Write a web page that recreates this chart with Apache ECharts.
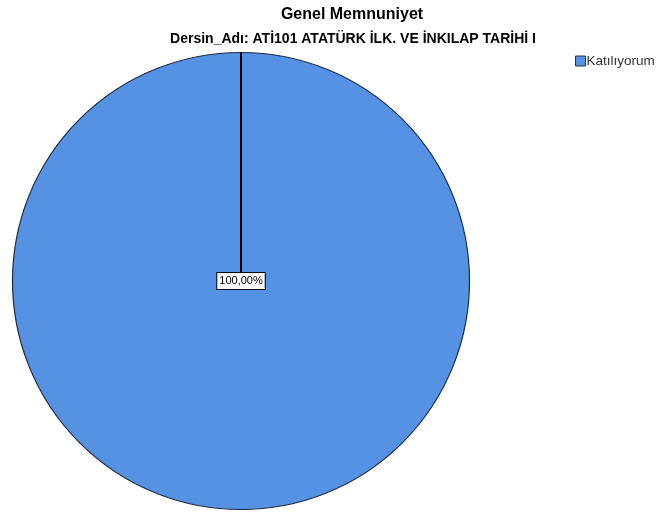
<!DOCTYPE html>
<html>
<head>
<meta charset="utf-8">
<script src="https://cdn.jsdelivr.net/npm/echarts@6/dist/echarts.min.js"></script>
<style>
html,body{margin:0;padding:0;background:#fff;}
#c{width:657px;height:513px;}
</style>
</head>
<body>
<div id="c"></div>
<script>
var titleText = 'Genel Memnuniyet';
var subtitleText = 'Dersin_Adı: ATİ101 ATATÜRK İLK. VE İNKILAP TARİHİ I';
var categories = ['Katılıyorum'];
var values = [100];
var sliceColors = ['#5592e3'];

var FONT = '"Liberation Sans", Arial, sans-serif';
var center = [241, 281];
var radius = 228.5;

var chart = echarts.init(document.getElementById('c'), null, {renderer: 'canvas'});
var pieData = categories.map(function (c, i) {
  return {name: c, value: values[i], itemStyle: {color: sliceColors[i]}};
});
var labelData = categories.map(function (c, i) {
  return {name: c, value: values[i]};
});

chart.setOption({
  animation: false,
  backgroundColor: '#fff',
  title: [
    {text: titleText, left: 347, top: 2, textAlign: 'center',
     textStyle: {fontFamily: FONT, fontSize: 16, fontWeight: 'bold', color: '#000'}},
    {text: subtitleText, left: 348, top: 27, textAlign: 'center',
     textStyle: {fontFamily: FONT, fontSize: 14, fontWeight: 'bold', color: '#000'}}
  ],
  legend: {
    orient: 'vertical', left: 575, top: 54, padding: 0, icon: 'rect',
    itemWidth: 10, itemHeight: 10, itemGap: 6,
    data: categories,
    textStyle: {fontFamily: FONT, fontSize: 13.5, color: '#333', padding: [0, 0, 0, -4]},
    itemStyle: {borderColor: '#333', borderWidth: 1}
  },
  polar: {center: center, radius: radius},
  angleAxis: {type: 'value', min: 0, max: 360, startAngle: 90, show: false},
  radiusAxis: {type: 'value', min: 0, max: 1, show: false},
  series: [
    {
      type: 'pie', center: center, radius: radius, startAngle: 90, clockwise: true,
      data: pieData,
      itemStyle: {borderColor: '#1c2a44', borderWidth: 1.2},
      label: {show: false},
      labelLine: {show: false},
      emphasis: {disabled: true},
      z: 2
    },
    {
      type: 'line', coordinateSystem: 'polar',
      data: [[0, 0], [1, 0]],
      symbol: 'none', silent: true,
      lineStyle: {color: '#000', width: 2},
      z: 3
    },
    {
      type: 'pie', center: center, radius: radius, startAngle: 90,
      data: labelData,
      silent: true,
      legendHoverLink: false,
      itemStyle: {color: 'transparent', borderWidth: 0},
      label: {
        show: true, position: 'center',
        formatter: function (p) { return p.percent.toFixed(2).replace('.', ',') + '%'; },
        fontFamily: FONT, fontSize: 11, color: '#000',
        backgroundColor: '#fff', borderColor: '#000', borderWidth: 1, padding: [3, 2, 2, 2]
      },
      labelLine: {show: false},
      emphasis: {disabled: true},
      z: 4
    }
  ]
});
</script>
</body>
</html>
